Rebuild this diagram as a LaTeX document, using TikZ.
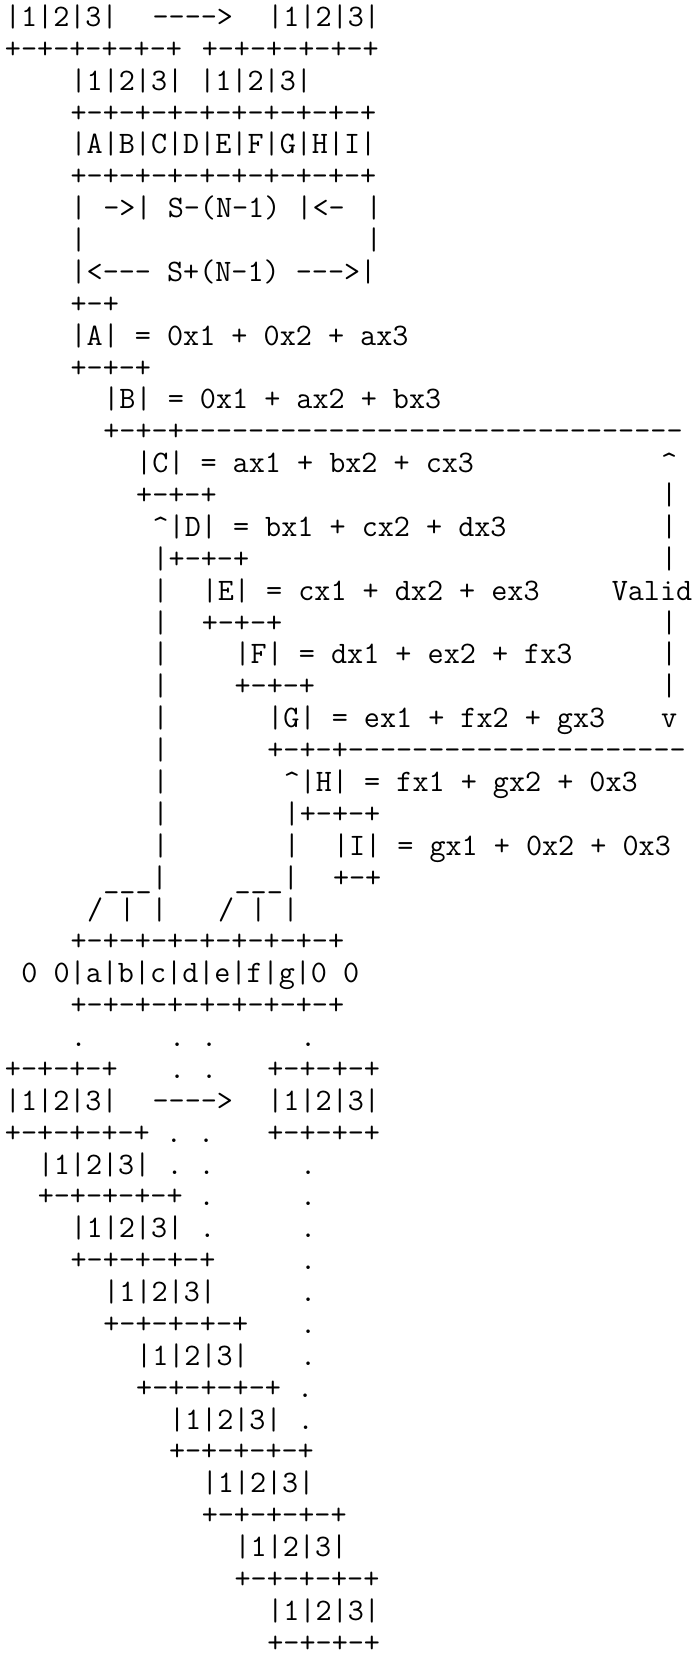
\documentclass[tikz,border=0pt]{standalone}

\begin{document}
\begin{tikzpicture}[x=16.4pt, y=31.88pt,
    txt/.style={anchor=base west, inner sep=0pt, outer sep=0pt,
      font=\fontsize{31.24}{32}\selectfont\ttfamily\frenchspacing}]
    \useasboundingbox (-5pt,-5.5pt) rectangle (691pt,-1666.5pt);
    % Copy 1|2|3 into the window
    \node[txt] (r1a) at (0,-1) {|1|2|3|};
    \node[txt] (r1b) at (9,-1) {---->};
    \node[txt] (r1c) at (16,-1) {|1|2|3|};
    \node[txt] (r2a) at (0,-2) {+-+-+-+-+-+};
    \node[txt] (r2b) at (12,-2) {+-+-+-+-+-+};
    \node[txt] (r3) at (4,-3) {|1|2|3| |1|2|3|};
    \node[txt] (r4) at (4,-4) {+-+-+-+-+-+-+-+-+-+};
    \node[txt] (r5) at (4,-5) {|A|B|C|D|E|F|G|H|I|};
    \node[txt] (r6) at (4,-6) {+-+-+-+-+-+-+-+-+-+};
    \node[txt] (r7a) at (4,-7) {|};
    \node[txt] (r7b) at (6,-7) {->| S-(N-1) |<-};
    \node[txt] (r7c) at (22,-7) {|};
    \node[txt] (r8a) at (4,-8) {|};
    \node[txt] (r8b) at (22,-8) {|};
    \node[txt] (r9) at (4,-9) {|<--- S+(N-1) --->|};
    % Sums, one per output cell
    \node[txt] (r10) at (4,-10) {+-+};
    \node[txt] (r11) at (4,-11) {|A| = 0x1 + 0x2 + ax3};
    \node[txt] (r12) at (4,-12) {+-+-+};
    \node[txt] (r13) at (6,-13) {|B| = 0x1 + ax2 + bx3};
    \node[txt] (r14) at (6,-14) {+-+-+-------------------------------};
    \node[txt] (r15a) at (8,-15) {|C| = ax1 + bx2 + cx3};
    \node[txt] (r15b) at (40,-15) {\textasciicircum};
    \node[txt] (r16a) at (8,-16) {+-+-+};
    \node[txt] (r16b) at (40,-16) {|};
    \node[txt] (r17a) at (9,-17) {\textasciicircum|D| = bx1 + cx2 + dx3};
    \node[txt] (r17b) at (40,-17) {|};
    \node[txt] (r18a) at (9,-18) {|+-+-+};
    \node[txt] (r18b) at (40,-18) {|};
    \node[txt] (r19a) at (9,-19) {|};
    \node[txt] (r19b) at (12,-19) {|E| = cx1 + dx2 + ex3};
    \node[txt] (r19c) at (37,-19) {Valid};
    \node[txt] (r20a) at (9,-20) {|};
    \node[txt] (r20b) at (12,-20) {+-+-+};
    \node[txt] (r20c) at (40,-20) {|};
    \node[txt] (r21a) at (9,-21) {|};
    \node[txt] (r21b) at (14,-21) {|F| = dx1 + ex2 + fx3};
    \node[txt] (r21c) at (40,-21) {|};
    \node[txt] (r22a) at (9,-22) {|};
    \node[txt] (r22b) at (14,-22) {+-+-+};
    \node[txt] (r22c) at (40,-22) {|};
    \node[txt] (r23a) at (9,-23) {|};
    \node[txt] (r23b) at (16,-23) {|G| = ex1 + fx2 + gx3};
    \node[txt] (r23c) at (40,-23) {v};
    \node[txt] (r24a) at (9,-24) {|};
    \node[txt] (r24b) at (16,-24) {+-+-+---------------------};
    \node[txt] (r25a) at (9,-25) {|};
    \node[txt] (r25b) at (17,-25) {\textasciicircum|H| = fx1 + gx2 + 0x3};
    \node[txt] (r26a) at (9,-26) {|};
    \node[txt] (r26b) at (17,-26) {|+-+-+};
    \node[txt] (r27a) at (9,-27) {|};
    \node[txt] (r27b) at (17,-27) {|};
    \node[txt] (r27c) at (20,-27) {|I| = gx1 + 0x2 + 0x3};
    \node[txt] (r28a) at (6,-28) {\_\_\_|};
    \node[txt] (r28b) at (14,-28) {\_\_\_|};
    \node[txt] (r28c) at (20,-28) {+-+};
    \node[txt] (r29a) at (5,-29) {/ | |};
    \node[txt] (r29b) at (13,-29) {/ | |};
    % Input with zero padding
    \node[txt] (r30) at (4,-30) {+-+-+-+-+-+-+-+-+};
    \node[txt] (r31) at (1,-31) {0 0|a|b|c|d|e|f|g|0 0};
    \node[txt] (r32) at (4,-32) {+-+-+-+-+-+-+-+-+};
    % Sliding the window
    \node[txt] (r33a) at (4,-33) {.};
    \node[txt] (r33b) at (10,-33) {. .};
    \node[txt] (r33c) at (18,-33) {.};
    \node[txt] (r34a) at (0,-34) {+-+-+-+};
    \node[txt] (r34b) at (10,-34) {. .};
    \node[txt] (r34c) at (16,-34) {+-+-+-+};
    \node[txt] (r35a) at (0,-35) {|1|2|3|};
    \node[txt] (r35b) at (9,-35) {---->};
    \node[txt] (r35c) at (16,-35) {|1|2|3|};
    \node[txt] (r36a) at (0,-36) {+-+-+-+-+ . .};
    \node[txt] (r36b) at (16,-36) {+-+-+-+};
    \node[txt] (r37a) at (2,-37) {|1|2|3| . .};
    \node[txt] (r37b) at (18,-37) {.};
    \node[txt] (r38a) at (2,-38) {+-+-+-+-+ .};
    \node[txt] (r38b) at (18,-38) {.};
    \node[txt] (r39a) at (4,-39) {|1|2|3| .};
    \node[txt] (r39b) at (18,-39) {.};
    \node[txt] (r40a) at (4,-40) {+-+-+-+-+};
    \node[txt] (r40b) at (18,-40) {.};
    \node[txt] (r41a) at (6,-41) {|1|2|3|};
    \node[txt] (r41b) at (18,-41) {.};
    \node[txt] (r42a) at (6,-42) {+-+-+-+-+};
    \node[txt] (r42b) at (18,-42) {.};
    \node[txt] (r43a) at (8,-43) {|1|2|3|};
    \node[txt] (r43b) at (18,-43) {.};
    \node[txt] (r44) at (8,-44) {+-+-+-+-+ .};
    \node[txt] (r45) at (10,-45) {|1|2|3| .};
    \node[txt] (r46) at (10,-46) {+-+-+-+-+};
    \node[txt] (r47) at (12,-47) {|1|2|3|};
    \node[txt] (r48) at (12,-48) {+-+-+-+-+};
    \node[txt] (r49) at (14,-49) {|1|2|3|};
    \node[txt] (r50) at (14,-50) {+-+-+-+-+};
    \node[txt] (r51) at (16,-51) {|1|2|3|};
    \node[txt] (r52) at (16,-52) {+-+-+-+};
\end{tikzpicture}
\end{document}
